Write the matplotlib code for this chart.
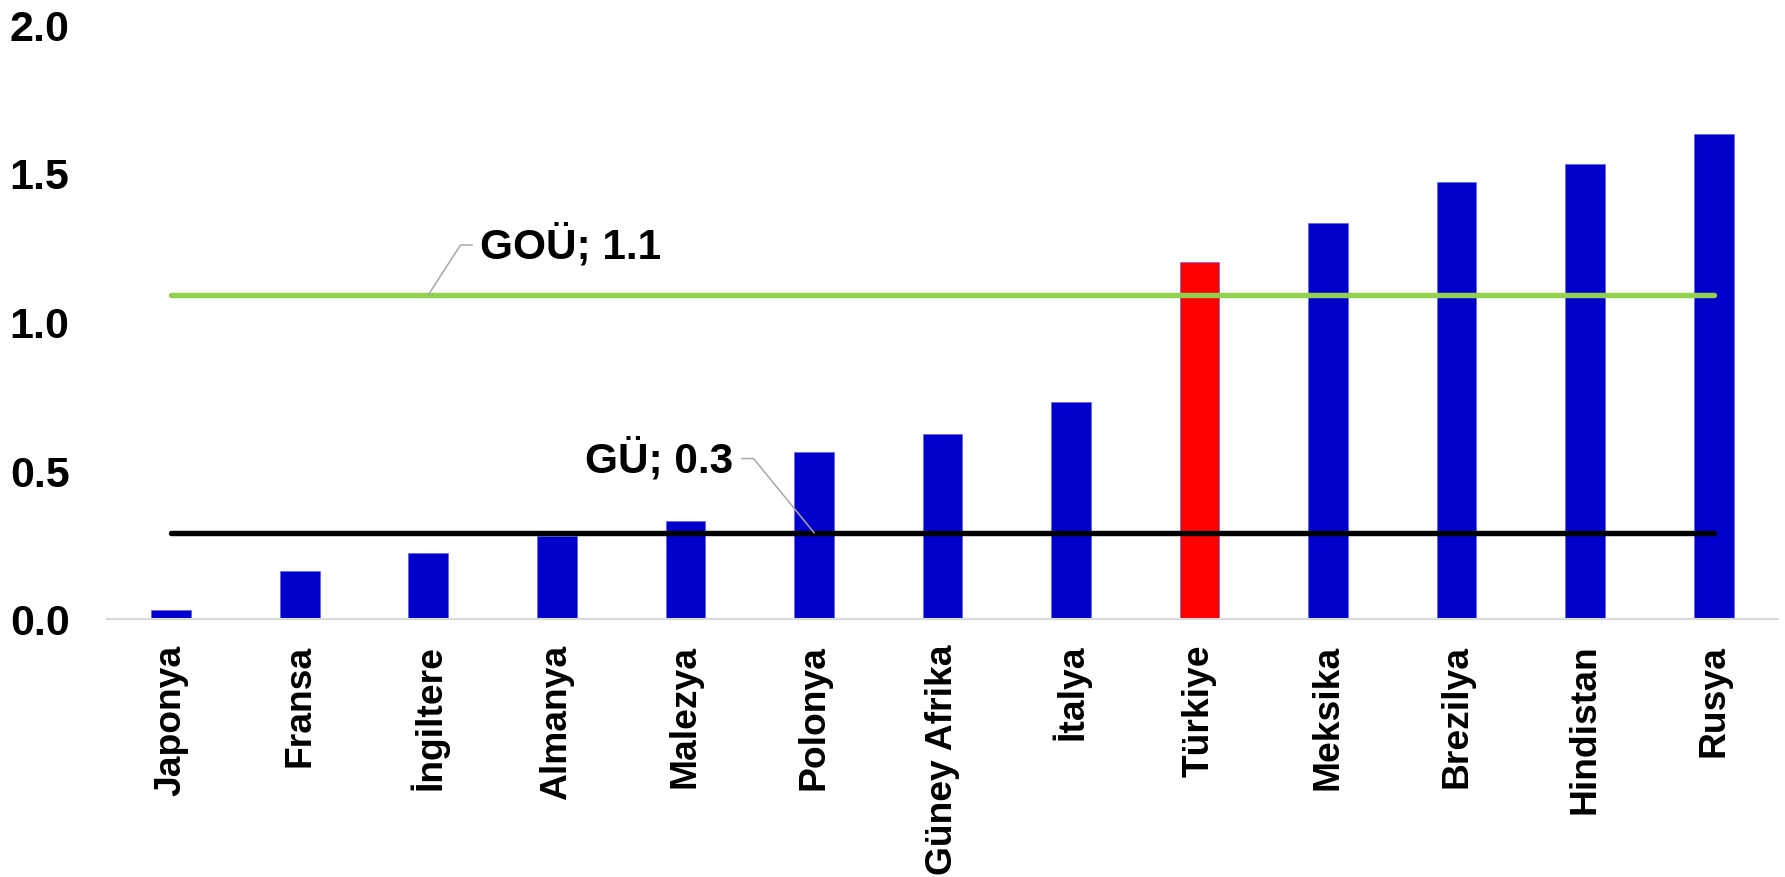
import matplotlib
matplotlib.use("Agg")
import matplotlib.pyplot as plt
from matplotlib.ticker import FormatStrFormatter

countries = ["Japonya", "Fransa", "İngiltere", "Almanya", "Malezya", "Polonya",
             "Güney Afrika", "İtalya", "Türkiye", "Meksika", "Brezilya",
             "Hindistan", "Rusya"]
values = [0.03, 0.16, 0.22, 0.28, 0.33, 0.56, 0.62, 0.73, 1.20, 1.33, 1.47, 1.53, 1.63]
highlight = "Türkiye"
goü_value = 1.09
goü_label = "GOÜ; 1.1"
gü_value = 0.29
gü_label = "GÜ; 0.3"
yticks = [0.0, 0.5, 1.0, 1.5, 2.0]

plt.rcParams['font.family'] = ['Liberation Sans', 'DejaVu Sans']
plt.rcParams['font.weight'] = 'bold'

fig = plt.figure(figsize=(17.85, 8.78), dpi=100)
ax = fig.add_axes([0.060, 0.294, 0.936, 0.6775])

x = list(range(len(countries)))
colors = ["#FF0000" if c == highlight else "#0000CC" for c in countries]
ax.bar(x, values, width=0.31, color=colors, edgecolor="#5A5AE0", linewidth=0.4, zorder=2)

ax.plot([x[0], x[-1]], [goü_value, goü_value], color="#92D050", lw=3.9,
        solid_capstyle="round", zorder=3)
ax.plot([x[0], x[-1]], [gü_value, gü_value], color="#000000", lw=3.9,
        solid_capstyle="round", zorder=3)

# leader lines and labels
lead = dict(color="#A6A6A6", lw=1.1, zorder=4)
ax.plot([2.0, 2.25, 2.34], [goü_value, 1.257, 1.257], **lead)
ax.text(2.40, 1.257, goü_label, fontsize=30.5, fontweight='bold', ha='left', va='center')
ax.plot([5.0, 4.53, 4.44], [gü_value, 0.539, 0.539], **lead)
ax.text(4.37, 0.539, gü_label, fontsize=30.5, fontweight='bold', ha='right', va='center')

ax.set_xlim(-0.5, len(countries) - 0.5)
ax.set_ylim(0, 2.0)
ax.set_yticks(yticks)
ax.yaxis.set_major_formatter(FormatStrFormatter('%.1f'))
ax.set_xticks(x)
ax.set_xticklabels(countries, rotation=90, fontsize=26.8, fontweight='bold')
for lab in ax.get_yticklabels():
    lab.set_fontsize(31)
    lab.set_fontweight('bold')
ax.tick_params(axis='y', length=0, pad=27)
ax.tick_params(axis='x', length=0, pad=18)
for s in ['top', 'right', 'left']:
    ax.spines[s].set_visible(False)
ax.spines['bottom'].set_color("#D9D9D9")
ax.spines['bottom'].set_linewidth(1.5)

fig.savefig("out.png", dpi=100, facecolor="white")
